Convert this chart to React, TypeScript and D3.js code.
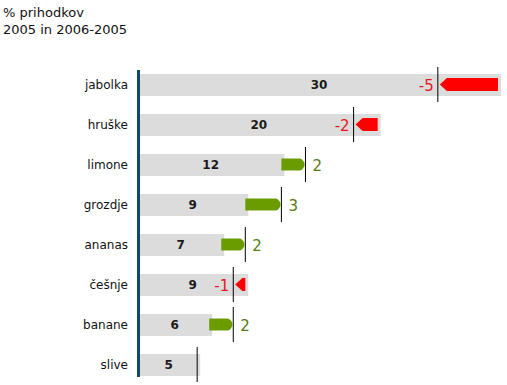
import * as d3 from "d3";

const categories = ["jabolka", "hruške", "limone", "grozdje", "ananas", "češnje", "banane", "slive"];
const values2005 = [30, 20, 12, 9, 7, 9, 6, 5];
const deltas = [-5, -2, 2, 3, 2, -1, 2, 0];
const titleLines = ["% prihodkov", "2005 in 2006-2005"];

const W = 507;
const H = 385;
const FONT = "'DejaVu Sans', Verdana, sans-serif";

const App = () => {
  const x = d3.scaleLinear().domain([0, 30]).range([137, 498]);
  const y = d3.scaleBand<string>().domain(categories).range([65, 385]);
  const barH = 22;
  const arrowH = 13;

  const rows = categories.map((c, i) => {
    const v = values2005[i];
    const d = deltas[i];
    return { c, v, d, cy: (y(c) ?? 0) + y.bandwidth() / 2, end: v + d };
  });

  const redArrow = (x0: number, x1: number, cy: number) => {
    const t = cy - arrowH / 2;
    const b = cy + arrowH / 2;
    return `M${x0},${cy} L${x0 + 7},${t} L${x1},${t} L${x1},${b} L${x0 + 7},${b} Z`;
  };

  // green arrow: rectangle with a short blunt point at the right
  const greenArrow = (x0: number, x1: number, cy: number) => {
    const t = cy - arrowH / 2 + 0.5;
    const b = cy + arrowH / 2 - 0.5;
    return `M${x0},${t} L${x1 - 5},${t} Q${x1 - 2},${t} ${x1},${cy - 1.5} L${x1},${cy + 1.5} Q${x1 - 2},${b} ${x1 - 5},${b} L${x0},${b} Z`;
  };

  return (
    <svg width={W} height={H} style={{ position: "absolute", left: 0, top: 0 }} fontFamily={FONT}>
      <rect width={W} height={H} fill="#fff" />
      {titleLines.map((t, i) => (
        <text key={t} x={3} y={17 + i * 17} fontSize={13} fill="#111">
          {t}
        </text>
      ))}

      {rows.map((r) => (
        <g key={r.c}>
          <text x={128} y={r.cy + 4} textAnchor="end" fontSize={12} fill="#111">
            {r.c}
          </text>
          <rect x={x(0)} y={r.cy - barH / 2} width={x(r.v) - x(0) + 3} height={barH} fill="#dcdcdc" />
          <text x={(x(0) + x(r.v) + 3) / 2} y={r.cy + 4} textAnchor="middle" fontSize={12} fontWeight="bold" fill="#1a1a1a">
            {r.v}
          </text>
          {r.d < 0 && <path d={redArrow(x(r.end) + 2, x(r.v), r.cy - 0.5)} fill="#ff0000" />}
          {r.d > 0 && <path d={greenArrow(x(r.v), x(r.end) - 1, r.cy - 0.5)} fill="#6a9c00" />}
          <line x1={x(r.end)} x2={x(r.end)} y1={r.cy - 18} y2={r.cy + 17} stroke="#000" strokeWidth={1} />
          {r.d < 0 && (
            <text x={x(r.end) - 4} y={r.cy + 5.5} textAnchor="end" fontSize={15} fill="#e8161c">
              {r.d}
            </text>
          )}
          {r.d > 0 && (
            <text x={x(r.end) + 7} y={r.cy + 5.5} fontSize={15} fill="#557a10">
              {r.d}
            </text>
          )}
        </g>
      ))}

      <line x1={138.5} x2={138.5} y1={70} y2={377} stroke="#0e4a6e" strokeWidth={3} />
    </svg>
  );
};

export default App;
